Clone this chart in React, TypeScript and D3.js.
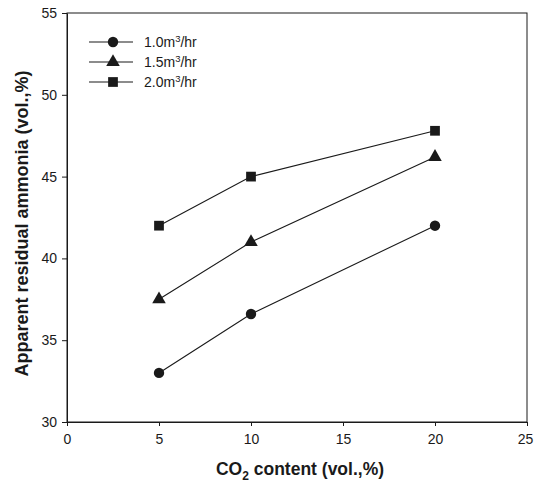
import * as d3 from "d3";
import { useEffect, useRef } from "react";

const width = 534;
const height = 483;
const margin = { top: 13, right: 7, bottom: 61, left: 67 };

const co2Content = [5, 10, 20];
const flow10 = [33.0, 36.6, 42.0];
const flow15 = [37.5, 41.0, 46.2];
const flow20 = [42.0, 45.0, 47.8];
const seriesNames = ["1.0", "1.5", "2.0"];
const seriesSymbols = [d3.symbolCircle, d3.symbolTriangle, d3.symbolSquare];
const symbolSizes = [85, 80, 95];
const xTicks = [0, 5, 10, 15, 20, 25];
const yTicks = [30, 35, 40, 45, 50, 55];

const ink = "#1a1a1a";
const font = "'Liberation Sans', Arial, sans-serif";

export default function App() {
  const svgRef = useRef<SVGSVGElement | null>(null);

  useEffect(() => {
    document.body.style.margin = "0";
    if (!svgRef.current) return;
    drawChart(svgRef.current);
  }, []);

  return (
    <svg
      ref={svgRef}
      width={width}
      height={height}
      style={{ display: "block", background: "#fff" }}
    />
  );
}

function drawChart(svgElement: SVGSVGElement) {
  const svg = d3.select(svgElement);
  svg.selectAll("*").remove();

  const plotRight = width - margin.right;
  const plotBottom = height - margin.bottom;

  const xScale = d3.scaleLinear().domain([0, 25]).range([margin.left, plotRight]);
  const yScale = d3.scaleLinear().domain([30, 55]).range([plotBottom, margin.top]);

  // frame
  svg
    .append("rect")
    .attr("x", margin.left)
    .attr("y", margin.top)
    .attr("width", plotRight - margin.left)
    .attr("height", plotBottom - margin.top)
    .attr("fill", "none")
    .attr("stroke", ink)
    .attr("stroke-width", 1);

  const xAxis = svg
    .append("g")
    .attr("transform", `translate(0, ${plotBottom})`)
    .call(d3.axisBottom(xScale).tickValues(xTicks).tickSize(4).tickPadding(8).tickSizeOuter(0));
  const yAxis = svg
    .append("g")
    .attr("transform", `translate(${margin.left}, 0)`)
    .call(d3.axisLeft(yScale).tickValues(yTicks).tickSize(5).tickPadding(5).tickSizeOuter(0));

  [xAxis, yAxis].forEach((axis) => {
    axis.select(".domain").attr("stroke", ink);
    axis.selectAll(".tick line").attr("stroke", ink);
    axis
      .selectAll(".tick text")
      .attr("fill", ink)
      .style("font-family", font)
      .style("font-size", "14px");
  });
  // keep the last x label inside the window
  xAxis
    .selectAll<SVGTextElement, number>(".tick text")
    .filter((d) => d === 25)
    .attr("dx", -2);

  // axis titles
  const xTitle = svg
    .append("text")
    .attr("x", (margin.left + plotRight) / 2 + 3)
    .attr("y", 475)
    .attr("text-anchor", "middle")
    .attr("fill", ink)
    .style("font-family", font)
    .style("font-size", "17.5px")
    .style("font-weight", "700");
  xTitle.append("tspan").text("CO");
  xTitle.append("tspan").attr("dy", 5).style("font-size", "12px").text("2");
  xTitle.append("tspan").attr("dy", -5).text(" content (vol.,%)");

  svg
    .append("text")
    .attr("transform", `translate(28, ${(margin.top + plotBottom) / 2 + 6}) rotate(-90)`)
    .attr("text-anchor", "middle")
    .attr("fill", ink)
    .style("font-family", font)
    .style("font-size", "18px")
    .style("font-weight", "700")
    .text("Apparent residual ammonia (vol.,%)");

  const series = [flow10, flow15, flow20];
  const line = d3
    .line<number>()
    .x((_, i) => xScale(co2Content[i]))
    .y((v) => yScale(v));

  series.forEach((values, s) => {
    svg
      .append("path")
      .attr("d", line(values))
      .attr("fill", "none")
      .attr("stroke", ink)
      .attr("stroke-width", 1.1);

    const symbol = d3.symbol().type(seriesSymbols[s]).size(symbolSizes[s]);
    svg
      .append("g")
      .selectAll("path")
      .data(values)
      .join("path")
      .attr("transform", (v, i) => `translate(${xScale(co2Content[i])}, ${yScale(v)})`)
      .attr("d", symbol())
      .attr("fill", ink);
  });

  // legend
  const legend = svg.append("g").attr("transform", `translate(89, 42)`);
  const items = legend
    .selectAll("g")
    .data(seriesNames)
    .join("g")
    .attr("transform", (_, i) => `translate(0, ${i * 20})`);

  items
    .append("line")
    .attr("x1", 0)
    .attr("x2", 44)
    .attr("stroke", ink)
    .attr("stroke-width", 1.1);

  items
    .append("path")
    .attr("transform", "translate(24, 0)")
    .attr("d", (_, i) => d3.symbol().type(seriesSymbols[i]).size(symbolSizes[i])())
    .attr("fill", ink);

  const labels = items
    .append("text")
    .attr("x", 55)
    .attr("y", 5)
    .attr("fill", ink)
    .style("font-family", font)
    .style("font-size", "14px");
  labels.append("tspan").text((d) => `${d}m`);
  labels.append("tspan").attr("dy", -5).style("font-size", "9.5px").text("3");
  labels.append("tspan").attr("dy", 5).text("/hr");
}
